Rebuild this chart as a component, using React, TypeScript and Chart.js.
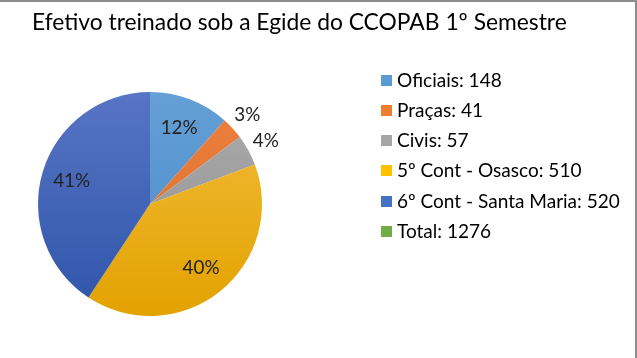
import React, { useEffect, useRef } from "react";
import { Chart, registerables } from "chart.js";

Chart.register(...registerables);

const titleText = "Efetivo treinado sob a Egide do CCOPAB 1º Semestre";
const categories = ["Oficiais", "Praças", "Civis", "5º Cont - Osasco", "6º Cont - Santa Maria", "Total"];
const legendValues = [148, 41, 57, 510, 520, 1276];
const pieValues = [148, 41, 57, 510, 520, 0];
const colorsLight = ["#649fd6", "#ee8040", "#acacac", "#f3bd3c", "#5874c4", "#70ad47"];
const colorsDark = ["#4a88c8", "#d86d22", "#8e8e8e", "#e2a200", "#2e55a9", "#5c9a35"];
const legendColors = ["#5b9bd5", "#ed7d31", "#a5a5a5", "#ffc000", "#4472c4", "#70ad47"];

const FONT = "Lato, 'Open Sans', sans-serif";

function fitSize(ctx: CanvasRenderingContext2D, text: string, width: number, weight = "normal") {
  ctx.font = `${weight} 100px ${FONT}`;
  const w = ctx.measureText(text).width;
  return (100 * width) / w;
}

const overlay = {
  id: "overlay",
  afterDraw(chart: any) {
    const ctx: CanvasRenderingContext2D = chart.ctx;
    ctx.save();

    // title
    const ts = fitSize(ctx, titleText, 535);
    ctx.font = `normal ${ts}px ${FONT}`;
    ctx.fillStyle = "#000";
    ctx.textBaseline = "alphabetic";
    ctx.textAlign = "left";
    ctx.fillText(titleText, 32, 30);

    // legend
    const labels = categories.map((c, i) => `${c}: ${legendValues[i]}`);
    const ls = fitSize(ctx, labels[4], 223);
    ctx.font = `normal ${ls}px ${FONT}`;
    ctx.textBaseline = "middle";
    const rows = [80, 110, 140, 170, 201, 231];
    labels.forEach((t, i) => {
      ctx.fillStyle = legendColors[i];
      ctx.fillRect(381, rows[i] - 5, 11, 11);
      ctx.fillStyle = "#000";
      ctx.fillText(t, 397, rows[i] + 1);
    });

    // percent labels
    const meta = chart.getDatasetMeta(0);
    const total = pieValues.reduce((a, b) => a + b, 0);
    const ps = fitSize(ctx, "40%", 37);
    ctx.font = `normal ${ps}px ${FONT}`;
    ctx.textAlign = "center";
    ctx.fillStyle = "#222";
    meta.data.forEach((arc: any, i: number) => {
      const v = pieValues[i];
      if (!v) return;
      const pct = v / total;
      const { x, y, startAngle, endAngle, outerRadius } = arc.getProps(["x", "y", "startAngle", "endAngle", "outerRadius"], true);
      const mid = (startAngle + endAngle) / 2;
      const r = pct < 0.05 ? outerRadius + 20 : outerRadius * 0.73;
      const label = `${Math.round(pct * 100)}%`;
      ctx.fillText(label, x + Math.cos(mid) * r, y + Math.sin(mid) * r);
    });

    // border top & right
    ctx.fillStyle = "#8c8c8c";
    ctx.fillRect(0, 0, 637, 2);
    ctx.fillRect(635, 0, 2, 358);
    ctx.restore();
  },
};

export default function App() {
  const ref = useRef<HTMLCanvasElement>(null);
  useEffect(() => {
    const canvas = ref.current!;
    const ctx = canvas.getContext("2d")!;
    const cx = 150, top = 92, bottom = 316;
    const bg = pieValues.map((_, i) => {
      const g = ctx.createLinearGradient(cx, top, cx, bottom);
      g.addColorStop(0, colorsLight[i]);
      g.addColorStop(1, colorsDark[i]);
      return g;
    });
    const chart = new Chart(canvas, {
      type: "pie",
      data: {
        labels: categories,
        datasets: [
          {
            data: pieValues,
            backgroundColor: bg,
            borderWidth: 0,
          },
        ],
      },
      options: {
        animation: false,
        responsive: false,
        events: [],
        layout: { padding: { left: 38, right: 375, top: 92, bottom: 42 } },
        plugins: { legend: { display: false }, title: { display: false }, tooltip: { enabled: false } },
      },
      plugins: [overlay],
    });
    return () => chart.destroy();
  }, []);
  return (
    <div style={{ position: "fixed", left: 0, top: 0, background: "#fff", width: 637, height: 358, overflow: "hidden" }}>
      <canvas ref={ref} width={637} height={358} style={{ display: "block", width: 637, height: 358 }} />
    </div>
  );
}
